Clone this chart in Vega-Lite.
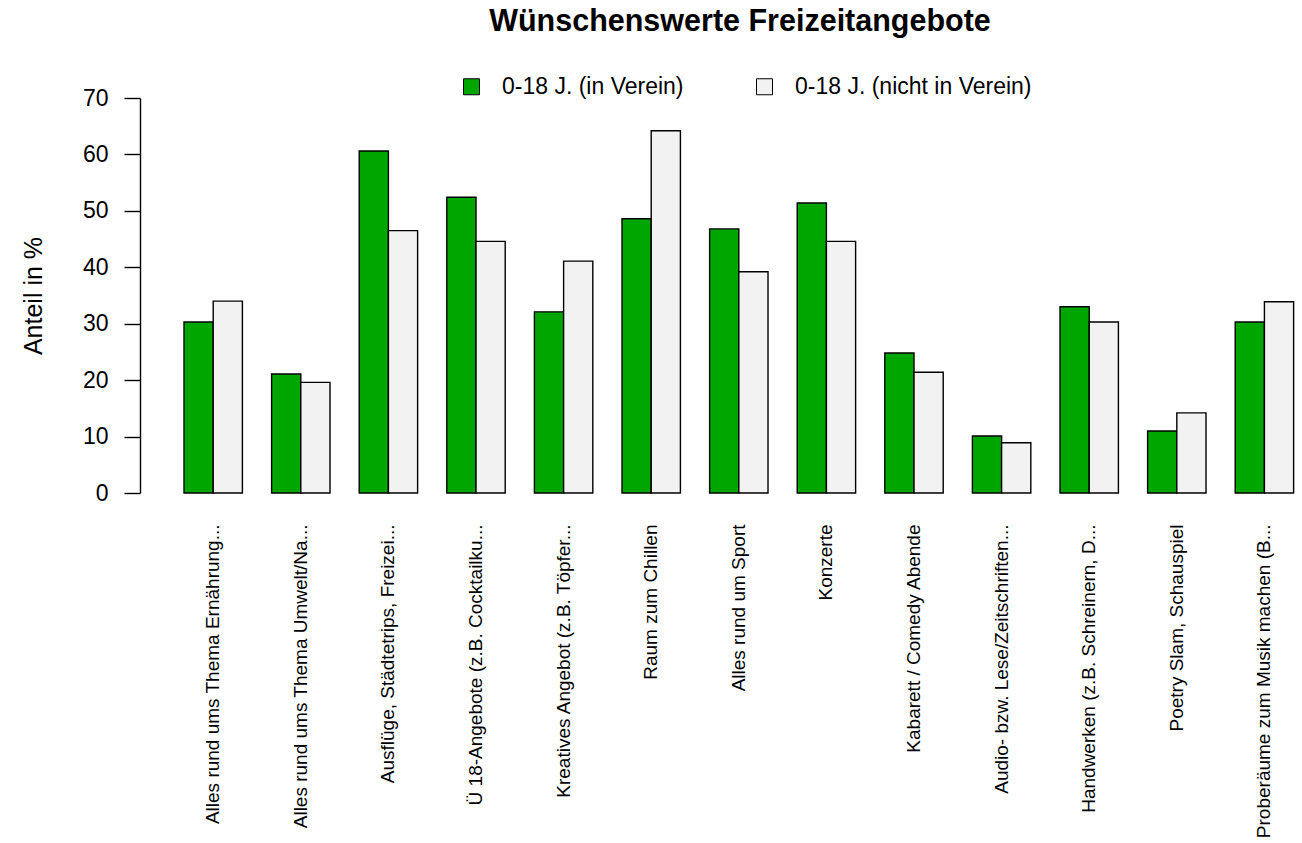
{
  "$schema": "https://vega.github.io/schema/vega-lite/v6.json",
  "autosize": "none",
  "width": 1162,
  "height": 395,
  "padding": {"left": 140, "top": 98, "right": 0, "bottom": 350},
  "background": "white",
  "title": {
    "text": "Wünschenswerte Freizeitangebote",
    "fontSize": 30.5,
    "fontWeight": "bold",
    "font": "Liberation Sans",
    "color": "black",
    "anchor": "middle",
    "frame": "group",
    "dx": 19,
    "offset": 38
  },
  "data": {
    "values": [
      {"cat": "Alles rund ums Thema Ernährung...", "group": "0-18 J. (in Verein)", "value": 30.3},
      {"cat": "Alles rund ums Thema Ernährung...", "group": "0-18 J. (nicht in Verein)", "value": 34.0},
      {"cat": "Alles rund ums Thema Umwelt/Na...", "group": "0-18 J. (in Verein)", "value": 21.1},
      {"cat": "Alles rund ums Thema Umwelt/Na...", "group": "0-18 J. (nicht in Verein)", "value": 19.6},
      {"cat": "Ausflüge, Städtetrips, Freizei...", "group": "0-18 J. (in Verein)", "value": 60.6},
      {"cat": "Ausflüge, Städtetrips, Freizei...", "group": "0-18 J. (nicht in Verein)", "value": 46.5},
      {"cat": "Ü 18-Angebote (z.B. Cocktailku...", "group": "0-18 J. (in Verein)", "value": 52.4},
      {"cat": "Ü 18-Angebote (z.B. Cocktailku...", "group": "0-18 J. (nicht in Verein)", "value": 44.6},
      {"cat": "Kreatives Angebot (z.B. Töpfer...", "group": "0-18 J. (in Verein)", "value": 32.1},
      {"cat": "Kreatives Angebot (z.B. Töpfer...", "group": "0-18 J. (nicht in Verein)", "value": 41.1},
      {"cat": "Raum zum Chillen", "group": "0-18 J. (in Verein)", "value": 48.6},
      {"cat": "Raum zum Chillen", "group": "0-18 J. (nicht in Verein)", "value": 64.2},
      {"cat": "Alles rund um Sport", "group": "0-18 J. (in Verein)", "value": 46.8},
      {"cat": "Alles rund um Sport", "group": "0-18 J. (nicht in Verein)", "value": 39.2},
      {"cat": "Konzerte", "group": "0-18 J. (in Verein)", "value": 51.4},
      {"cat": "Konzerte", "group": "0-18 J. (nicht in Verein)", "value": 44.6},
      {"cat": "Kabarett / Comedy Abende", "group": "0-18 J. (in Verein)", "value": 24.8},
      {"cat": "Kabarett / Comedy Abende", "group": "0-18 J. (nicht in Verein)", "value": 21.4},
      {"cat": "Audio- bzw. Lese/Zeitschriften...", "group": "0-18 J. (in Verein)", "value": 10.1},
      {"cat": "Audio- bzw. Lese/Zeitschriften...", "group": "0-18 J. (nicht in Verein)", "value": 8.9},
      {"cat": "Handwerken (z.B. Schreinern, D...", "group": "0-18 J. (in Verein)", "value": 33.0},
      {"cat": "Handwerken (z.B. Schreinern, D...", "group": "0-18 J. (nicht in Verein)", "value": 30.3},
      {"cat": "Poetry Slam, Schauspiel", "group": "0-18 J. (in Verein)", "value": 11.0},
      {"cat": "Poetry Slam, Schauspiel", "group": "0-18 J. (nicht in Verein)", "value": 14.2},
      {"cat": "Proberäume zum Musik machen (B...", "group": "0-18 J. (in Verein)", "value": 30.3},
      {"cat": "Proberäume zum Musik machen (B...", "group": "0-18 J. (nicht in Verein)", "value": 33.9}
    ]
  },
  "mark": {"type": "bar", "stroke": "black", "strokeWidth": 1.4, "fillOpacity": 1},
  "encoding": {
    "x": {
      "field": "cat",
      "type": "nominal",
      "sort": null,
      "scale": {"paddingInner": 0.3333, "paddingOuter": 0.299, "align": 0.84},
      "axis": {
        "title": null,
        "domain": false,
        "ticks": false,
        "labelAngle": -90,
        "labelAlign": "right",
        "labelBaseline": "middle",
        "labelPadding": 31,
        "labelFontSize": 19,
        "labelLimit": 500,
        "labelColor": "black",
        "labelFont": "Liberation Sans"
      }
    },
    "xOffset": {
      "field": "group",
      "type": "nominal",
      "sort": ["0-18 J. (in Verein)", "0-18 J. (nicht in Verein)"],
      "scale": {"paddingInner": 0, "paddingOuter": 0}
    },
    "y": {
      "field": "value",
      "type": "quantitative",
      "scale": {"domain": [0, 70], "nice": false},
      "axis": {
        "values": [0, 10, 20, 30, 40, 50, 60, 70],
        "grid": false,
        "domainColor": "black",
        "domainWidth": 1.4,
        "tickColor": "black",
        "tickWidth": 1.4,
        "tickSize": 16,
        "labelPadding": 16,
        "labelFontSize": 23,
        "labelColor": "black",
        "labelFont": "Liberation Sans",
        "title": "Anteil in %",
        "titleFontSize": 25,
        "titleFontWeight": "normal",
        "titleFont": "Liberation Sans",
        "titleColor": "black",
        "titleAngle": -90,
        "titleAlign": "center",
        "titleBaseline": "middle",
        "titleX": -107,
        "titleY": 197.5
      }
    },
    "fill": {
      "field": "group",
      "type": "nominal",
      "sort": ["0-18 J. (in Verein)", "0-18 J. (nicht in Verein)"],
      "scale": {"domain": ["0-18 J. (in Verein)", "0-18 J. (nicht in Verein)"], "range": ["#00A600", "#F2F2F2"]},
      "legend": {
        "title": null,
        "orient": "none",
        "legendX": 320,
        "legendY": -23,
        "direction": "horizontal",
        "symbolType": "square",
        "symbolSize": 256,
        "symbolStrokeColor": "black",
        "symbolStrokeWidth": 1,
        "symbolOpacity": 1,
        "labelFontSize": 23,
        "labelLimit": 500,
        "labelFont": "Liberation Sans",
        "labelColor": "black",
        "labelOffset": 19,
        "columnPadding": 69
      }
    }
  },
  "config": {"view": {"stroke": null}}
}
